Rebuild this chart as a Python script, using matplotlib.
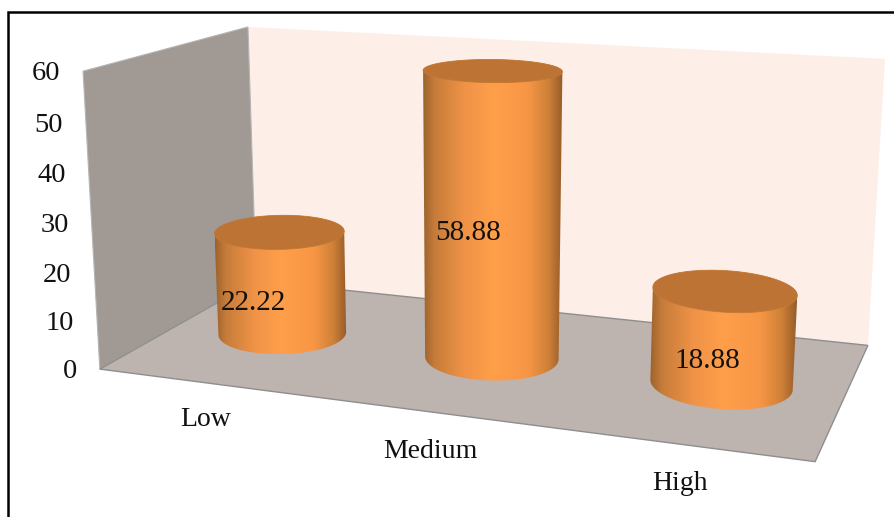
"""3D-style cylinder column chart of Low / Medium / High shares."""

import matplotlib

matplotlib.use('Agg')
import matplotlib.pyplot as plt
import numpy as np
from matplotlib.colors import LinearSegmentedColormap
from matplotlib.patches import Polygon

categories = ['Low', 'Medium', 'High']
values = [22.22, 58.88, 18.88]
y_ticks = [0, 10, 20, 30, 40, 50, 60]
y_max = 60

plt.rcParams['font.family'] = ['Liberation Serif', 'DejaVu Serif']

# box corners in (across, depth, height) and where they land on the canvas
box_world = np.array([
    [0, 0, 0], [1, 0, 0], [0, 1, 0], [1, 1, 0],
    [0, 0, 1], [0, 1, 1], [1, 1, 1],
], dtype=float)
box_canvas = np.array([
    [100, 369], [815, 462], [256, 281], [868, 345],
    [83, 71], [248, 27], [885, 59],
], dtype=float)


def fit_camera(world, canvas):
    rows = []
    for (a, b, c), (px, py) in zip(world, canvas):
        rows.append([a, b, c, 1, 0, 0, 0, 0, -px * a, -px * b, -px * c, -px])
        rows.append([0, 0, 0, 0, a, b, c, 1, -py * a, -py * b, -py * c, -py])
    _, _, vt = np.linalg.svd(np.array(rows))
    return vt[-1].reshape(3, 4)


camera = fit_camera(box_world, box_canvas)


def project(a, b, value):
    a, b, value = np.broadcast_arrays(a, b, np.asarray(value, dtype=float) / y_max)
    pts = np.stack([a, b, value, np.ones_like(a, dtype=float)], axis=-1)
    out = pts @ camera.T
    return out[..., :2] / out[..., 2:3]


def convex_hull(points):
    pts = sorted(map(tuple, points))

    def half(seq):
        chain = []
        for p in seq:
            while len(chain) > 1:
                (x1, y1), (x2, y2) = chain[-2], chain[-1]
                if (x2 - x1) * (p[1] - y1) - (y2 - y1) * (p[0] - x1) > 0:
                    break
                chain.pop()
            chain.append(p)
        return chain[:-1]

    return np.array(half(pts) + half(pts[::-1]))


fig = plt.figure(figsize=(8.95, 5.17), dpi=100)
ax = fig.add_axes([0, 0, 1, 1])
ax.set_xlim(0, 895)
ax.set_ylim(517, 0)
ax.axis('off')

# frame around the chart, open on the right and at the bottom
ax.plot([8, 8, 895], [517, 12, 12], color='black', lw=1.8, solid_joinstyle='miter')

# walls and floor
back = project(np.array([0, 1, 1, 0]), 1, np.array([0, 0, y_max, y_max]))
left = project(0, np.array([0, 1, 1, 0]), np.array([0, 0, y_max, y_max]))
floor = project(np.array([0, 1, 1, 0]), np.array([0, 0, 1, 1]), 0)
ax.add_patch(Polygon(back, closed=True, fc='#FDEEE7', ec='none', zorder=1))
ax.add_patch(Polygon(left, closed=True, fc='#A09994', ec='#B5B5B5', lw=0.8, zorder=2))
ax.add_patch(Polygon(floor, closed=True, fc='#BDB3AF', ec='#8E8E8E', lw=1.0, zorder=2))

# columns: screen-space shading clipped to the silhouette of each cylinder
shade = LinearSegmentedColormap.from_list('column', [
    (0.0, '#9C622C'), (0.08, '#C67C3A'), (0.3, '#F09347'), (0.5, '#FF9F4A'),
    (0.75, '#F79645'), (0.9, '#CE8038'), (1.0, '#965B2A'),
])
theta = np.linspace(0, 2 * np.pi, 181)[:-1]
# floor-plane ellipse axes, chosen so the outlines sit level on the canvas
across_cos, across_sin = 0.0865, -0.046
depth_cos, depth_sin = 0.0835, 0.19
centers = [(i + 0.5) / len(categories) for i in range(len(categories))]

for center, value in zip(centers, values):
    a = center + across_cos * np.cos(theta) + across_sin * np.sin(theta)
    b = 0.5 + depth_cos * np.cos(theta) + depth_sin * np.sin(theta)
    base = project(a, b, 0)
    top = project(a, b, value)
    hull = convex_hull(np.vstack([base, top]))
    body = Polygon(hull, closed=True, fc='none', ec='none', transform=ax.transData)
    ax.add_patch(body)
    extent = (hull[:, 0].min(), hull[:, 0].max(), hull[:, 1].max(), hull[:, 1].min())
    im = ax.imshow(np.linspace(0, 1, 256).reshape(1, -1), cmap=shade, extent=extent,
                   aspect='auto', zorder=3, interpolation='bilinear')
    im.set_clip_path(body)
    ax.add_patch(Polygon(top, closed=True, fc='#BC7333', ec='#C27A38', lw=0.6, zorder=4))

ax.set_xlim(0, 895)
ax.set_ylim(517, 0)

# value axis labels follow the front edge of the left wall
for tick in y_ticks:
    px, py = project(0, 0, tick)
    ax.text(px - 23, py + 2.5, str(tick), ha='right', va='center', fontsize=20.5, color='#111111', zorder=6)

# value labels sit just left of each column's centre
label_pos = [(253, 303), (468, 233), (707, 361)]
for (lx, ly), value in zip(label_pos, values):
    ax.text(lx, ly, f'{value:.2f}', ha='center', va='center', fontsize=21, color='#111111', zorder=6)

cat_pos = [(206, 420), (430, 452), (680, 483)]
for (lx, ly), name in zip(cat_pos, categories):
    ax.text(lx, ly, name, ha='center', va='center', fontsize=20, color='#111111', zorder=6)

fig.savefig('out.png', dpi=100)
